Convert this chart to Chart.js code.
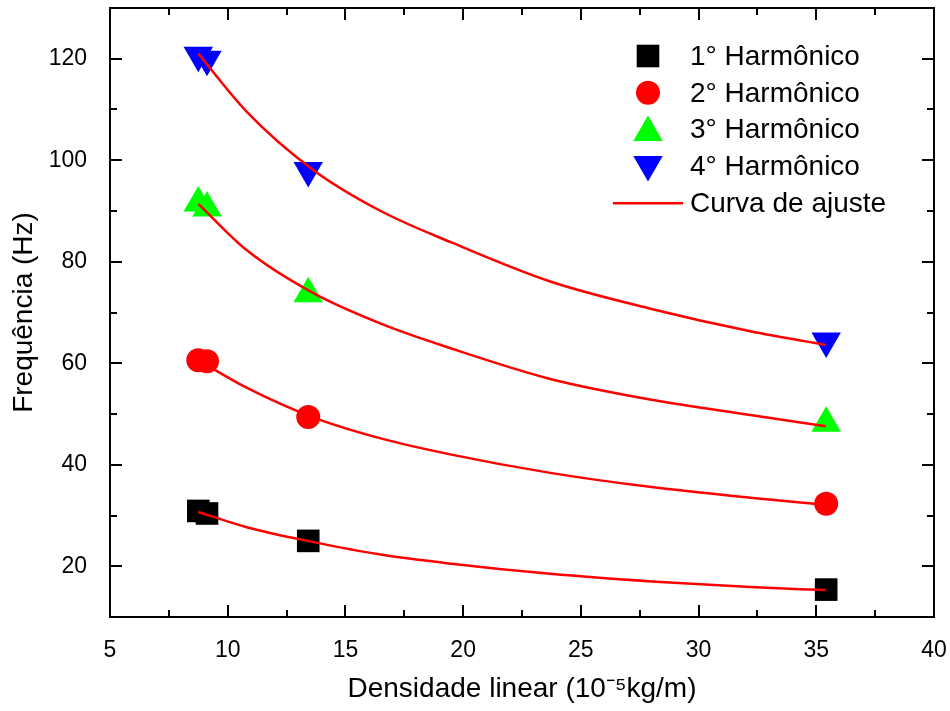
<!DOCTYPE html>
<html>
<head>
<meta charset="utf-8">
<script src="https://cdn.jsdelivr.net/npm/chart.js@4.4.1/dist/chart.umd.min.js"></script>
<style>
  html, body { margin: 0; padding: 0; background: #fff; }
  #wrap { width: 950px; height: 711px; }
</style>
</head>
<body>
<div id="wrap"><canvas id="chart" width="950" height="711"></canvas></div>
<script>
// measured points (x: 10^-5 kg/m, y: Hz)
const densidade = [8.75, 9.12, 13.42, 35.42]
const harm1 = [30.9, 30.4, 25.0, 15.4]
const harm2 = [60.6, 60.4, 49.4, 32.3]
const harm3 = [91.6, 90.6, 73.7, 48.2]
const harm4 = [120.7, 119.9, 98.0, 64.4]

// fitted curves
const fitX = [8.75, 10.8, 13.6, 16.5, 19.5, 23.7, 28.0, 32.2, 35.4]
const fit1 = [30.7, 27.7, 24.8, 22.3, 20.5, 18.5, 17.0, 15.9, 15.3]
const fit2 = [60.6, 55.2, 49.4, 45.2, 42.0, 38.4, 35.6, 33.5, 32.1]
const fit3 = [91.4, 82.3, 73.9, 67.8, 62.9, 56.9, 52.8, 49.8, 47.6]
const fit4 = [121.0, 109.6, 98.2, 90.0, 83.8, 76.1, 70.7, 66.3, 63.6]

const legendLabels = ['1° Harmônico', '2° Harmônico', '3° Harmônico', '4° Harmônico', 'Curva de ajuste']

const font = '"Liberation Sans", Arial, sans-serif'
const pts = (ys) => densidade.map((x, i) => ({ x, y: ys[i] }))
const curve = (ys) => fitX.map((x, i) => ({ x, y: ys[i] }))

function markers(label, ys, color, style, radius, rotation) {
  return {
    type: 'scatter',
    label,
    data: pts(ys),
    backgroundColor: color,
    borderWidth: 0,
    pointStyle: style,
    pointRadius: radius,
    pointRotation: rotation || 0,
    order: 2,
  }
}

function fitLine(ys) {
  return {
    type: 'line',
    label: 'Curva de ajuste',
    data: curve(ys),
    borderColor: '#ff0000',
    borderWidth: 2.5,
    pointRadius: 0,
    fill: false,
    cubicInterpolationMode: 'monotone',
    order: 1,
  }
}

// frame + inward tick marks on all four sides
const framePlugin = {
  id: 'frame',
  afterDatasetsDraw(chart) {
    const { ctx, chartArea: a, scales } = chart
    ctx.save()
    ctx.strokeStyle = '#000'
    ctx.lineWidth = 2
    scales.x.ticks.forEach((t) => {
      const px = Math.round(scales.x.getPixelForValue(t.value))
      const len = t.label !== '' ? 12 : 7
      ctx.beginPath()
      ctx.moveTo(px, a.bottom); ctx.lineTo(px, a.bottom - len)
      ctx.moveTo(px, a.top); ctx.lineTo(px, a.top + len)
      ctx.stroke()
    })
    scales.y.ticks.forEach((t) => {
      const py = Math.round(scales.y.getPixelForValue(t.value))
      const len = t.label !== '' ? 12 : 7
      ctx.beginPath()
      ctx.moveTo(a.left, py); ctx.lineTo(a.left + len, py)
      ctx.moveTo(a.right, py); ctx.lineTo(a.right - len, py)
      ctx.stroke()
    })
    ctx.strokeRect(a.left, a.top, a.right - a.left, a.bottom - a.top)
    ctx.restore()
  },
}

// legend inside the plot, upper right
const legendPlugin = {
  id: 'insideLegend',
  afterDraw(chart) {
    const { ctx } = chart
    const ds = chart.data.datasets
    const mx = 648, tx = 690, y0 = 56, dy = 36.8
    ctx.save()
    ctx.font = '28px ' + font
    ctx.textBaseline = 'middle'
    for (let i = 0; i < 4; i++) {
      const d = ds[i]
      const y = y0 + i * dy
      ctx.fillStyle = d.backgroundColor
      Chart.helpers.drawPoint(ctx, {
        pointStyle: d.pointStyle,
        radius: d.pointRadius,
        rotation: d.pointRotation,
        borderWidth: 0,
      }, mx, i === 2 ? y + 3 : (i === 3 ? y - 2 : y))
      ctx.fillStyle = '#000'
      ctx.fillText(legendLabels[i], tx, y + 1)
    }
    const yl = y0 + 4 * dy
    ctx.strokeStyle = '#ff0000'
    ctx.lineWidth = 2.5
    ctx.beginPath()
    ctx.moveTo(613, yl); ctx.lineTo(683, yl)
    ctx.stroke()
    ctx.fillText(legendLabels[4], tx, yl + 1)
    ctx.restore()
  },
}

new Chart(document.getElementById('chart'), {
  data: {
    datasets: [
      markers('1° Harmônico', harm1, '#000000', 'rect', 16),
      markers('2° Harmônico', harm2, '#ff0000', 'circle', 12),
      markers('3° Harmônico', harm3, '#00ff00', 'triangle', 17),
      markers('4° Harmônico', harm4, '#0000ff', 'triangle', 17, 180),
      fitLine(fit1),
      fitLine(fit2),
      fitLine(fit3),
      fitLine(fit4),
    ],
  },
  options: {
    responsive: false,
    animation: false,
    devicePixelRatio: 1,
    layout: { autoPadding: false, padding: { top: 8, right: 16, left: 0, bottom: 0 } },
    plugins: {
      legend: { display: false },
      tooltip: { enabled: false },
    },
    scales: {
      x: {
        type: 'linear',
        min: 5,
        max: 40,
        grid: { display: false },
        border: { display: false },
        ticks: {
          stepSize: 2.5,
          autoSkip: false,
          maxRotation: 0,
          padding: 12,
          color: '#000',
          font: { family: font, size: 23 },
          callback: (v) => (v % 5 === 0 ? String(v) : ''),
        },
        title: {
          display: true,
          text: 'Densidade linear (10⁻⁵kg/m)',
          color: '#000',
          font: { family: font, size: 28 },
          padding: { top: 0, bottom: 5 },
        },
        afterFit: (s) => {
          s.height = 94
          s.paddingLeft = 0
          s.paddingRight = 0
        },
      },
      y: {
        type: 'linear',
        min: 10,
        max: 130,
        grid: { display: false },
        border: { display: false },
        ticks: {
          stepSize: 10,
          autoSkip: false,
          padding: 15,
          color: '#000',
          font: { family: font, size: 23 },
          callback: (v) => (v % 20 === 0 && v >= 20 && v <= 120 ? String(v) : ''),
        },
        title: {
          display: true,
          text: 'Frequência (Hz)',
          color: '#000',
          font: { family: font, size: 28 },
          padding: { top: 7, bottom: 0 },
        },
        afterFit: (s) => {
          s.width = 110
          s.paddingTop = 0
          s.paddingBottom = 0
        },
      },
    },
  },
  plugins: [framePlugin, legendPlugin],
})
</script>
</body>
</html>
